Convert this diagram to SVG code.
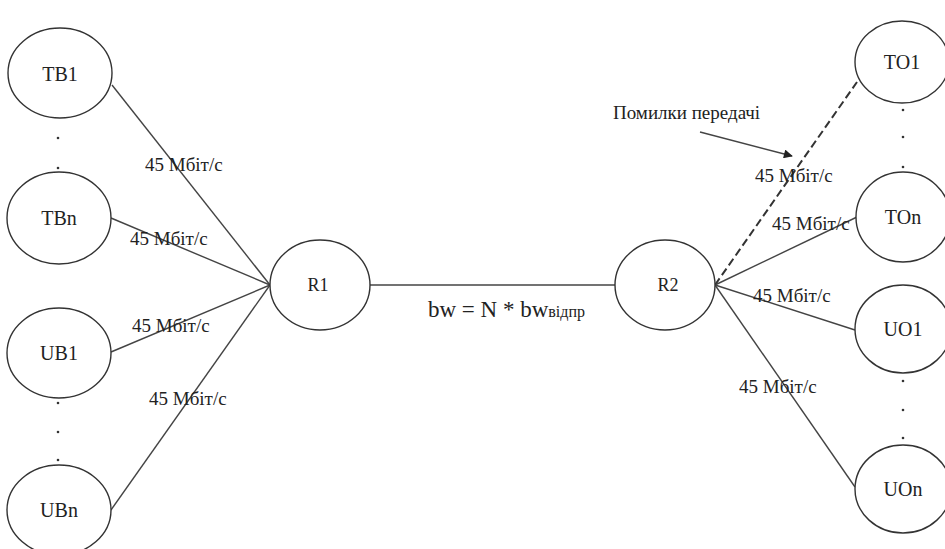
<svg xmlns="http://www.w3.org/2000/svg" width="945" height="549" viewBox="0 0 945 549">
  <style>
    .node ellipse { fill: #ffffff; stroke: #333333; stroke-width: 1.4; }
    .node text { font-size: 20px; fill: #222222; text-anchor: middle; }
    .router text { font-size: 18px; }
    .link { stroke: #444444; stroke-width: 1.4; fill: none; }
    .dashed { stroke: #333333; stroke-width: 2; stroke-dasharray: 8 4; fill: none; }
    .lbl { font-size: 19px; fill: #222222; }
    .formula { font-size: 23px; fill: #222222; }
    .formula tspan { font-size: 16px; }
    .dot { fill: #333333; }
  </style>
  <defs>
    <marker id="arrow" viewBox="0 0 10 10" refX="9" refY="5" markerWidth="10" markerHeight="9" markerUnits="userSpaceOnUse" orient="auto">
      <path d="M0,0 L10,5 L0,10 z" fill="#222222"/>
    </marker>
  </defs>
  <rect width="945" height="549" fill="#ffffff"/>

  <!-- connectors -->
  <g id="connectors">
    <line class="link" x1="112" y1="85" x2="270" y2="285"/>
    <line class="link" x1="111" y1="218" x2="270" y2="285"/>
    <line class="link" x1="111" y1="352" x2="270" y2="285"/>
    <line class="link" x1="111" y1="510" x2="270" y2="285"/>
    <line class="link" x1="370" y1="285" x2="615" y2="285"/>
    <line class="dashed" x1="715" y1="285" x2="857" y2="82"/>
    <line class="link" x1="715" y1="285" x2="857" y2="217"/>
    <line class="link" x1="715" y1="285" x2="855" y2="330"/>
    <line class="link" x1="715" y1="285" x2="855" y2="487"/>
    <line class="link" x1="700" y1="132" x2="792" y2="156" stroke-width="1.6" marker-end="url(#arrow)"/>
  </g>

  <g font-family="Liberation Serif, serif">
    <!-- link labels -->
    <g id="labels">
      <text class="lbl" x="145" y="171">45 Мбіт/с</text>
      <text class="lbl" x="130" y="245">45 Мбіт/с</text>
      <text class="lbl" x="132" y="332">45 Мбіт/с</text>
      <text class="lbl" x="149" y="405">45 Мбіт/с</text>
      <text class="lbl" x="755" y="182">45 Мбіт/с</text>
      <text class="lbl" x="772" y="230">45 Мбіт/с</text>
      <text class="lbl" x="753" y="302">45 Мбіт/с</text>
      <text class="lbl" x="739" y="393">45 Мбіт/с</text>
      <text class="lbl" x="613" y="119">Помилки передачі</text>
      <text class="formula" x="428" y="317">bw = N * bw<tspan>відпр</tspan></text>
    </g>

    <!-- sender side -->
    <g id="TB1" class="node"><ellipse cx="60" cy="73" rx="52" ry="45"/><text x="60" y="81">TB1</text></g>
    <g id="TBn" class="node"><ellipse cx="59" cy="218" rx="52" ry="46"/><text x="59" y="225">TBn</text></g>
    <g id="UB1" class="node"><ellipse cx="59" cy="353" rx="52" ry="45"/><text x="59" y="360">UB1</text></g>
    <g id="UBn" class="node"><ellipse cx="59" cy="510" rx="52" ry="45"/><text x="59" y="517">UBn</text></g>

    <!-- routers -->
    <g id="R1" class="node router"><ellipse cx="320" cy="285" rx="50" ry="45"/><text x="318" y="291">R1</text></g>
    <g id="R2" class="node router"><ellipse cx="665" cy="285" rx="50" ry="45"/><text x="668" y="291">R2</text></g>

    <!-- receiver side -->
    <g id="TO1" class="node"><ellipse cx="902" cy="62" rx="47" ry="41"/><text x="902" y="69">TO1</text></g>
    <g id="TOn" class="node"><ellipse cx="903" cy="217" rx="47" ry="45"/><text x="903" y="224">TOn</text></g>
    <g id="UO1" class="node"><ellipse cx="903" cy="329" rx="48" ry="44"/><text x="903" y="336">UO1</text></g>
    <g id="UOn" class="node"><ellipse cx="903" cy="489" rx="48" ry="44"/><text x="903" y="496">UOn</text></g>
  </g>

  <g id="dots">
    <circle class="dot" cx="58" cy="138" r="1.3"/>
    <circle class="dot" cx="58" cy="168" r="1.3"/>
    <circle class="dot" cx="58" cy="403" r="1.3"/>
    <circle class="dot" cx="58" cy="432" r="1.3"/>
    <circle class="dot" cx="58" cy="460" r="1.3"/>
    <circle class="dot" cx="903" cy="110" r="1.3"/>
    <circle class="dot" cx="903" cy="137" r="1.3"/>
    <circle class="dot" cx="903" cy="167" r="1.3"/>
    <circle class="dot" cx="903" cy="381" r="1.3"/>
    <circle class="dot" cx="903" cy="410" r="1.3"/>
    <circle class="dot" cx="903" cy="438" r="1.3"/>
  </g>
</svg>
